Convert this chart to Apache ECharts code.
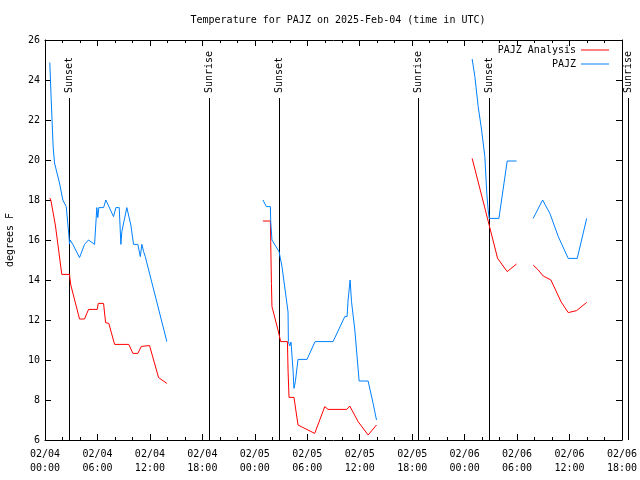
<!DOCTYPE html>
<html><head><meta charset="utf-8">
<script src="https://cdn.jsdelivr.net/npm/echarts@6/dist/echarts.min.js"></script>
<style>html,body{margin:0;padding:0;background:#fff}#c{width:640px;height:480px}</style>
</head><body><div id="c"></div>
<script>
// hours since 2025-02-04 00:00 UTC
const analysisSeg1 = [[0.55,18.1],[0.69,17.95],[1.20,16.7],[1.92,14.28],[2.80,14.28],[2.95,13.75],[3.95,12.05],[4.52,12.05],[4.98,12.53],[5.98,12.53],[6.09,12.83],[6.70,12.83],[6.93,11.87],[7.30,11.83],[7.96,10.78],[9.59,10.78],[10.05,10.33],[10.62,10.33],[11.01,10.68],[11.96,10.72],[12.99,9.12],[13.94,8.83]];
const analysisSeg2 = [[24.93,16.95],[25.78,16.95],[25.82,15.92],[25.90,13.83],[25.96,12.67],[26.65,11.5],[26.96,10.92],[27.73,10.92],[27.80,9.5],[27.91,8.13],[28.48,8.13],[28.94,6.75],[30.85,6.33],[32.0,7.67],[32.38,7.53],[34.52,7.53],[34.86,7.7],[35.81,6.92],[36.96,6.25],[37.92,6.75]];
const analysisSeg3 = [[48.86,20.08],[50.31,17.6],[51.77,15.08],[52.87,14.42],[53.94,14.8]];
const analysisSeg4 = [[55.84,14.75],[56.42,14.5],[56.99,14.2],[57.87,14.0],[59.02,12.92],[59.85,12.37],[60.81,12.47],[61.96,12.88]];

const obsSeg1 = [[0.55,24.87],[0.71,23.0],[0.94,20.6],[1.09,19.85],[1.66,18.85],[2.04,18.0],[2.43,17.67],[2.61,17.67],[2.72,16.3],[2.80,15.8],[2.88,16.0],[3.18,15.78],[3.95,15.12],[4.52,15.78],[4.98,16.0],[5.67,15.78],[5.93,17.62],[6.04,17.12],[6.16,17.62],[6.70,17.62],[6.96,18.0],[7.84,17.17],[7.96,17.08],[8.11,17.62],[8.49,17.62],[8.68,15.78],[8.79,16.42],[9.36,17.62],[9.82,16.75],[10.13,15.78],[10.62,15.78],[10.90,15.17],[11.08,15.78],[11.28,15.42],[11.47,15.17],[13.94,10.92]];
const obsSeg2 = [[24.93,18.0],[25.32,17.67],[25.78,17.67],[25.82,16.92],[25.96,16.0],[26.77,15.42],[27.11,14.67],[27.80,12.4],[27.84,10.92],[27.99,10.7],[28.14,10.9],[28.37,9.5],[28.48,8.58],[28.64,8.92],[28.94,10.03],[29.97,10.03],[30.89,10.92],[32.95,10.92],[34.29,12.17],[34.55,12.17],[34.67,13.0],[34.90,14.0],[35.06,12.92],[35.44,11.5],[35.93,8.95],[36.96,8.95],[37.53,7.83],[37.92,7.0]];
const obsSeg3 = [[48.86,25.05],[49.17,24.17],[49.55,22.67],[49.94,21.5],[50.31,20.17],[50.54,18.3],[50.69,17.5],[50.81,17.08],[51.92,17.08],[52.87,19.95],[53.94,19.95]];
const obsSeg4 = [[55.84,17.08],[56.92,18.0],[57.75,17.33],[58.71,16.17],[59.85,15.08],[60.88,15.08],[61.96,17.08]];

const eventTimes = [2.80, 18.72, 26.73, 42.64, 50.77, 66.69];
const eventNames = ['Sunset','Sunrise','Sunset','Sunrise','Sunset','Sunrise'];

const X_MIN = 0, X_MAX = 66, X_STEP = 6;
const Y_MIN = 6, Y_MAX = 26, Y_STEP = 2;
const TITLE = 'Temperature for PAJZ on 2025-Feb-04 (time in UTC)';
const NAME_A = 'PAJZ Analysis', NAME_O = 'PAJZ';
const RED = '#ff0000', BLUE = '#0080ff';
const FONT = '"DejaVu Sans Mono", "Liberation Mono", monospace';

function xLabel(h) {
  const day = 4 + Math.floor(h / 24);
  const hh = h % 24;
  return '02/' + String(day).padStart(2,'0') + '\n' + String(hh).padStart(2,'0') + ':00';
}

const chart = echarts.init(document.getElementById('c'), null, {renderer:'canvas'});
const lineSeries = (name, color, data) => ({
  type:'line', name, data, symbol:'none', showSymbol:false, animation:false,
  lineStyle:{color, width:1}, itemStyle:{color}, xAxisIndex:0, yAxisIndex:0, z:3
});
const axisCommon = {
  axisLine:{show:true, onZero:false, lineStyle:{color:'#000', width:1}},
  axisTick:{show:true, inside:true, length:6, lineStyle:{color:'#000'}},
  splitLine:{show:false}
};
chart.setOption({
  backgroundColor:'#fff',
  animation:false,
  title:{text:TITLE, left:333, top:10, textAlign:'center',
    textStyle:{fontFamily:FONT, fontSize:10, fontWeight:'normal', color:'#000'}},
  legend:{show:true, data:[NAME_A, NAME_O], orient:'vertical', right:26, top:39,
    align:'right', itemWidth:28, itemHeight:1, itemGap:2, icon:'rect',
    textStyle:{fontFamily:FONT, fontSize:10, color:'#000', lineHeight:12}},
  grid:{left:45, right:18, top:40, bottom:40, show:false, containLabel:false, outerBoundsMode:'none'},
  xAxis:[
    Object.assign({type:'value', min:X_MIN, max:X_MAX, interval:X_STEP, position:'bottom',
      minorTick:{show:true, splitNumber:3, length:3, lineStyle:{color:'#000'}},
      axisLabel:{formatter:xLabel, fontFamily:FONT, fontSize:10, color:'#000', margin:7, lineHeight:14}}, axisCommon),
    Object.assign({type:'value', min:X_MIN, max:X_MAX, interval:X_STEP, position:'top',
      minorTick:{show:true, splitNumber:3, length:3, lineStyle:{color:'#000'}},
      axisLabel:{show:false}}, axisCommon)
  ],
  yAxis:[
    Object.assign({type:'value', min:Y_MIN, max:Y_MAX, interval:Y_STEP, position:'left',
      name:'degrees F', nameLocation:'middle', nameGap:30, nameRotate:90,
      nameTextStyle:{fontFamily:FONT, fontSize:10, color:'#000'},
      axisLabel:{fontFamily:FONT, fontSize:10, color:'#000', margin:5}}, axisCommon),
    Object.assign({type:'value', min:Y_MIN, max:Y_MAX, interval:Y_STEP, position:'right',
      axisLabel:{show:false}}, axisCommon)
  ],
  series:[
    lineSeries(NAME_A, RED, analysisSeg1),
    lineSeries(NAME_A, RED, analysisSeg2),
    lineSeries(NAME_A, RED, analysisSeg3),
    lineSeries(NAME_A, RED, analysisSeg4),
    lineSeries(NAME_O, BLUE, obsSeg1),
    lineSeries(NAME_O, BLUE, obsSeg2),
    lineSeries(NAME_O, BLUE, obsSeg3),
    lineSeries(NAME_O, BLUE, obsSeg4),
    {
      type:'custom', clip:false, silent:true, z:2,
      data: eventTimes.map(t => [t]),
      renderItem: function(params, api) {
        const t = api.value(0);
        const p0 = api.coord([t, Y_MIN]);
        const p1 = api.coord([t, 23.1]);
        const pl = api.coord([t, 23.35]);
        const x = Math.round(p0[0]) + 0.5;
        return {type:'group', children:[
          {type:'line', shape:{x1:x, y1:p0[1], x2:x, y2:p1[1]}, style:{stroke:'#000', lineWidth:1}},
          {type:'text', x:x, y:pl[1], rotation:Math.PI/2,
            style:{text:eventNames[params.dataIndex], textAlign:'left', textVerticalAlign:'middle',
              font:'10px ' + FONT, fill:'#000'}}
        ]};
      }
    }
  ]
});
</script></body></html>
